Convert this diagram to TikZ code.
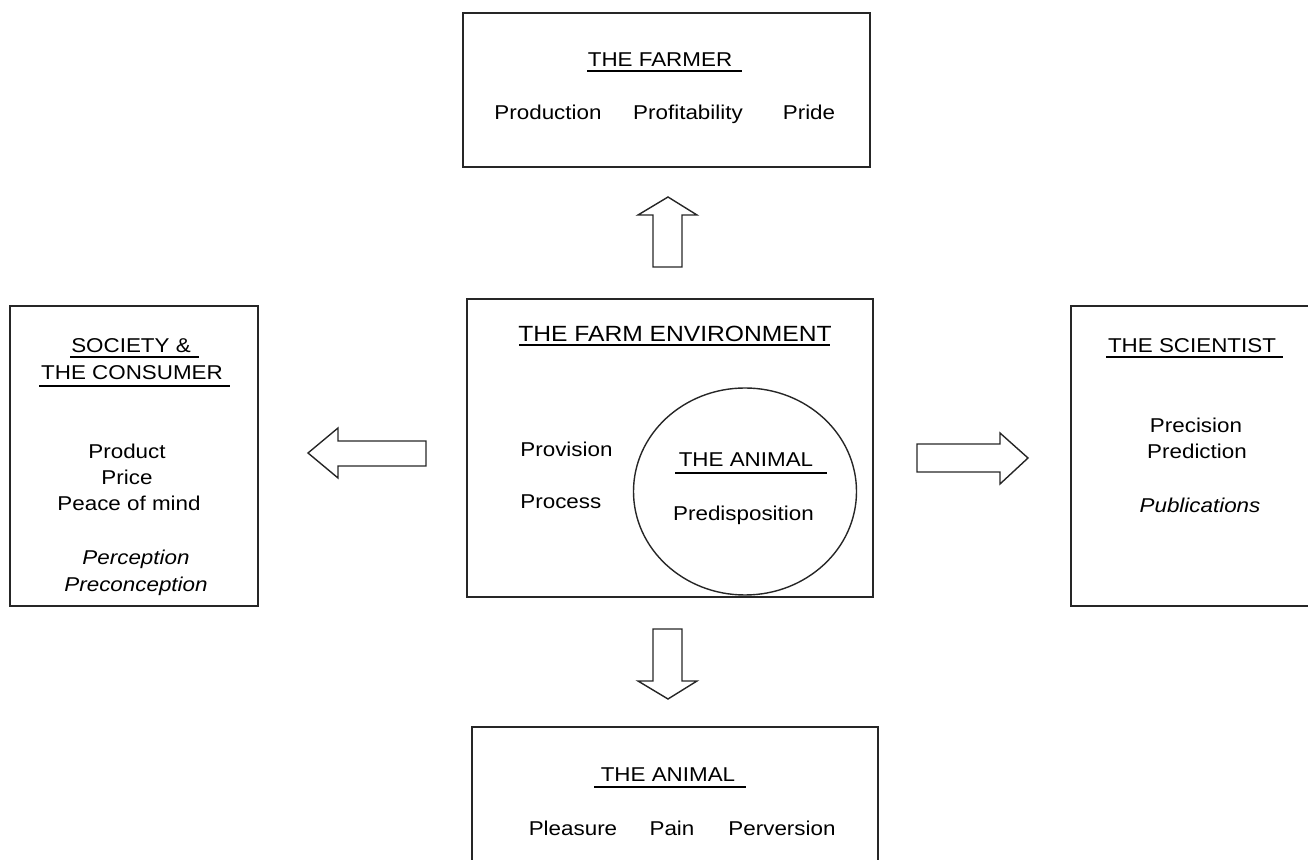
\documentclass[tikz,border=0pt]{standalone}
\usepackage{fontspec}
\setmainfont{Liberation Sans}[FakeStretch=1.12]
\begin{document}
\begin{tikzpicture}[x=0.5pt,y=-0.5pt,
  txt/.style={anchor=base, inner sep=0pt, font=\fontsize{10}{12}\selectfont},
  ltxt/.style={txt, anchor=base west},
  itxt/.style={txt, font=\fontsize{10}{12}\selectfont\itshape},
  frame/.style={line width=0.7pt, draw=black!85},
  ul/.style={line width=0.7pt},
  blk/.style={line width=0.7pt, draw=black!85, line join=miter}]
\useasboundingbox (0,0) rectangle (1308,860);

% boxes
\draw[frame] (463,13) rectangle (870,167);
\draw[frame] (10,306) rectangle (258,606);
\draw[frame] (467,299) rectangle (873,597);
\draw[frame] (1308,306) -- (1071,306) -- (1071,606) -- (1308,606);
\draw[frame] (472,860) -- (472,727) -- (878,727) -- (878,860);
\draw[frame] (745,491.5) ellipse [x radius=111.5, y radius=103.5];

% block arrows
\draw[blk] (653,267) -- (653,215) -- (638,215) -- (668,197) -- (697,215) -- (682,215) -- (682,267) -- cycle;
\draw[blk] (653,629) -- (653,681) -- (638,681) -- (668,699) -- (697,681) -- (682,681) -- (682,629) -- cycle;
\draw[blk] (426,441) -- (338,441) -- (338,428) -- (308,453) -- (338,478) -- (338,466) -- (426,466) -- cycle;
\draw[blk] (917,444) -- (1000,444) -- (1000,433) -- (1028,458) -- (1000,484) -- (1000,472) -- (917,472) -- cycle;

% the farmer
\node[txt] (farmer) at (660,67) {THE FARMER};
\draw[ul] (587,71) -- (742,71);
\node[txt] (prod) at (548,120) {Production};
\node[txt] (prof) at (688,120) {Profitability};
\node[txt] (pride) at (809,120) {Pride};

% society
\node[txt] (soc1) at (131,353) {SOCIETY \&};
\draw[ul] (70,357) -- (199,357);
\node[txt] (soc2) at (132,380) {THE CONSUMER};
\draw[ul] (39,386) -- (230,386);
\node[txt] (product) at (127,459) {Product};
\node[txt] (price) at (127,485) {Price};
\node[txt] (peace) at (129,511) {Peace of mind};
\node[itxt] (perc) at (136,565) {Perception};
\node[itxt] (precon) at (136,592) {Preconception};

% farm environment
\node[txt, font=\fontsize{11}{13}\selectfont] (env) at (675,342) {THE FARM ENVIRONMENT};
\draw[ul] (519,345) -- (830,345);
\node[ltxt] (prov) at (520,457) {Provision};
\node[ltxt] (proc) at (520,509) {Process};
\node[txt] (anim1) at (746,467) {THE ANIMAL};
\draw[ul] (675,473) -- (827,473);
\node[txt] (predis) at (743.5,521) {Predisposition};

% scientist
\node[txt] (sci) at (1192,353) {THE SCIENTIST};
\draw[ul] (1106,357) -- (1283,357);
\node[txt] (preci) at (1196,433) {Precision};
\node[txt] (predi) at (1197,459) {Prediction};
\node[itxt] (pub) at (1200,513) {Publications};

% the animal
\node[txt] (anim2) at (668,782) {THE ANIMAL};
\draw[ul] (594,787) -- (746,787);
\node[txt] (pleas) at (573,836) {Pleasure};
\node[txt] (pain) at (672,836) {Pain};
\node[txt] (perv) at (782,836) {Perversion};
\end{tikzpicture}
\end{document}
